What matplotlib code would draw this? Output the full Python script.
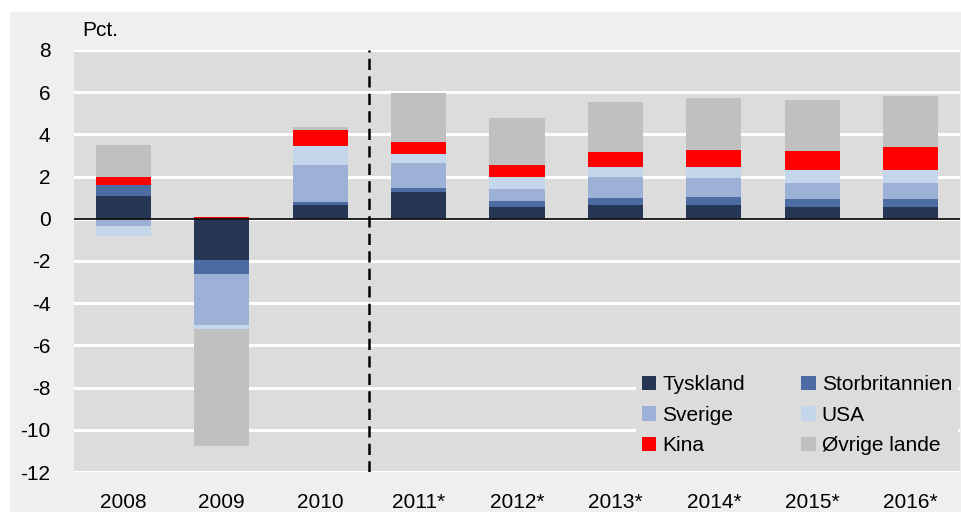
import numpy as np
import matplotlib
matplotlib.use("Agg")
from matplotlib import pyplot as plt
from matplotlib.patches import Rectangle

plt.rcParams['font.family'] = ['Liberation Sans', 'DejaVu Sans']
plt.rcParams['axes.unicode_minus'] = False

years = ['2008', '2009', '2010', '2011*', '2012*', '2013*', '2014*', '2015*', '2016*']
tyskland = [1.08, -1.95, 0.65, 1.27, 0.56, 0.65, 0.65, 0.56, 0.56]
storbritannien = [0.52, -0.65, 0.15, 0.19, 0.28, 0.34, 0.38, 0.38, 0.38]
sverige = [-0.33, -2.43, 1.75, 1.19, 0.57, 0.99, 0.90, 0.76, 0.76]
usa = [-0.47, -0.19, 0.90, 0.42, 0.57, 0.47, 0.52, 0.61, 0.61]
kina = [0.38, 0.10, 0.75, 0.57, 0.57, 0.71, 0.81, 0.90, 1.09]
oevrige = [1.52, -5.55, 0.15, 2.32, 2.23, 2.37, 2.46, 2.42, 2.42]

series = [
    ('Tyskland', tyskland, '#263655'),
    ('Storbritannien', storbritannien, '#4D6CA3'),
    ('Sverige', sverige, '#9DB0D5'),
    ('USA', usa, '#C6D6EA'),
    ('Kina', kina, '#FF0000'),
    ('Øvrige lande', oevrige, '#C0C0C0'),
]

fig = plt.figure(figsize=(9.62, 5.12), dpi=100, facecolor='white')
fig.patches.append(Rectangle((10/962, 0), 1, 500/512, transform=fig.transFigure,
                             facecolor='#EFEFEF', edgecolor='none', zorder=-10))
ax = fig.add_axes([74/962, 40/512, 886/962, 422/512])
ax.set_facecolor('#DCDCDC')

x = np.arange(len(years))
pos = np.zeros(len(years))
neg = np.zeros(len(years))
handles = {}
for name, vals, col in series:
    v = np.array(vals)
    bottom = np.where(v >= 0, pos, neg)
    b = ax.bar(x, v, 0.56, bottom=bottom, color=col, label=name, zorder=3)
    handles[name] = b
    pos = pos + np.where(v >= 0, v, 0)
    neg = neg + np.where(v < 0, v, 0)

ax.set_ylim(-12, 8)
ax.set_xlim(-0.5, 8.5)
ax.set_yticks(np.arange(-12, 9, 2))
ax.set_xticks(x)
ax.set_xticklabels(years)
ax.yaxis.grid(True, color='white', lw=2.2, zorder=1)
ax.set_axisbelow(True)
ax.tick_params(length=0, labelsize=15, pad=15)
ax.tick_params(axis='y', pad=17)
for s in ax.spines.values():
    s.set_visible(False)

ax.axhline(0, color='#111111', lw=1.3, zorder=4)
ax.axvline(2.5, color='black', lw=1.8, ls=(0, (4.5, 2.5)), zorder=5)

fig.text(82/962, 1 - 30/512, 'Pct.', fontsize=15, va='center', ha='left')

order = ['Tyskland', 'Sverige', 'Kina', 'Storbritannien', 'USA', 'Øvrige lande']
leg = ax.legend([handles[n] for n in order], order, ncol=2, loc='lower right',
                bbox_to_anchor=(1.01, 0.0), frameon=True, fontsize=15,
                handlelength=0.68, handleheight=0.68, handletextpad=0.3,
                columnspacing=2.7, labelspacing=0.56, borderpad=0.3)
leg.get_frame().set_facecolor('#DCDCDC')
leg.get_frame().set_edgecolor('none')
leg.get_frame().set_alpha(1)
leg.set_zorder(6)

fig.savefig('out.png', dpi=100, facecolor=fig.get_facecolor())
